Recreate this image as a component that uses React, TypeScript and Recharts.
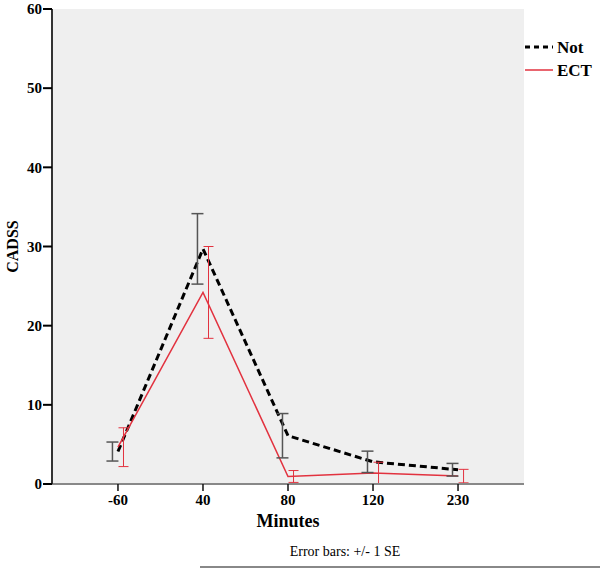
import React from "react"
import { ComposedChart, Line, XAxis, YAxis, ErrorBar, CartesianGrid } from "recharts"

// time points (minutes) and CADSS means / standard errors
const minutes = ["-60", "40", "80", "120", "230"]
const notMean = [4.1, 29.7, 6.1, 2.8, 1.8]
const notSE = [1.2, 4.45, 2.8, 1.35, 0.8]
const ectMean = [4.65, 24.2, 0.95, 1.4, 1.0]
const ectSE = [2.45, 5.8, 0.75, 1.35, 0.85]
const yTicks = [0, 10, 20, 30, 40, 50, 60]

const serif = "'Liberation Serif', 'Times New Roman', serif"
const RED = "#e2323f"
const DODGE = 0.065

const notLine = minutes.map((_, i) => ({ x: i, y: notMean[i] }))
const ectLine = minutes.map((_, i) => ({ x: i, y: ectMean[i] }))
const notBars = minutes.map((_, i) => ({ x: i - DODGE, y: notMean[i], e: notSE[i] }))
const ectBars = minutes.map((_, i) => ({ x: i + DODGE, y: ectMean[i], e: ectSE[i] }))

export default function App() {
  return (
    <div style={{ position: "absolute", left: 0, top: 0, width: 600, height: 570, background: "#fff" }}>
      <ComposedChart width={600} height={570} margin={{ top: 9, right: 76, bottom: 58, left: 0 }}>
        <CartesianGrid fill="#efefef" horizontal={false} vertical={false} />
        <XAxis
          dataKey="x"
          type="number"
          domain={[-0.776, 4.776]}
          ticks={[0, 1, 2, 3, 4]}
          tickFormatter={(v: number) => minutes[v]}
          allowDataOverflow
          height={28}
          axisLine={{ stroke: "#888", strokeWidth: 2 }}
          tickLine={{ stroke: "#111", strokeWidth: 1.5 }}
          tickSize={7}
          tickMargin={3}
          tick={{ fontFamily: serif, fontWeight: "bold", fontSize: 15, fill: "#000" }}
          label={{ value: "Minutes", position: "bottom", offset: 2, style: { fontFamily: serif, fontWeight: "bold", fontSize: 18, fill: "#000" } }}
        />
        <XAxis xAxisId="top" orientation="top" type="number" height={0} tick={false} tickLine={false} axisLine={{ stroke: "#888", strokeWidth: 2 }} />
        <YAxis
          domain={[0, 60]}
          ticks={yTicks}
          width={52}
          axisLine={{ stroke: "#333", strokeWidth: 2 }}
          tickLine={{ stroke: "#000", strokeWidth: 2 }}
          tickSize={9}
          tickMargin={1}
          tick={{ fontFamily: serif, fontWeight: "bold", fontSize: 15, fill: "#000" }}
          label={{ value: "CADSS", angle: -90, position: "insideLeft", offset: 12, style: { textAnchor: "middle", fontFamily: serif, fontWeight: "bold", fontSize: 16, fill: "#000" } }}
        />
        <YAxis yAxisId="right" orientation="right" width={0} tick={false} tickLine={false} axisLine={{ stroke: "#888", strokeWidth: 2 }} />
        <Line data={notLine} dataKey="y" name="Not" stroke="#000" strokeWidth={3} strokeDasharray="7 4" dot={false} activeDot={false} isAnimationActive={false} />
        <Line data={ectLine} dataKey="y" name="ECT" stroke={RED} strokeWidth={1.5} dot={false} activeDot={false} isAnimationActive={false} />
        <Line data={notBars} dataKey="y" stroke="none" dot={false} activeDot={false} legendType="none" isAnimationActive={false}>
          <ErrorBar dataKey="e" width={6} stroke="#555" strokeWidth={1.5} direction="y" />
        </Line>
        <Line data={ectBars} dataKey="y" stroke="none" dot={false} activeDot={false} legendType="none" isAnimationActive={false}>
          <ErrorBar dataKey="e" width={5} stroke={RED} strokeWidth={1} direction="y" />
        </Line>
      </ComposedChart>
      <svg width={600} height={570} style={{ position: "absolute", left: 0, top: 0, pointerEvents: "none" }}>
        <g transform="translate(522,35)">
          <line x1={3} y1={12} x2={31} y2={12} stroke="#000" strokeWidth={3} strokeDasharray="5 4" />
          <text x={35} y={18} fontFamily={serif} fontWeight="bold" fontSize={17} fill="#000">Not</text>
          <line x1={3} y1={35} x2={31} y2={35} stroke={RED} strokeWidth={1.5} />
          <text x={35} y={41} fontFamily={serif} fontWeight="bold" fontSize={17} fill="#000">ECT</text>
        </g>
        <text x={345} y={556} textAnchor="middle" fontFamily={serif} fontSize={14} fill="#000">Error bars: +/- 1 SE</text>
        <line x1={200} y1={567} x2={600} y2={567} stroke="#888" strokeWidth={2} />
      </svg>
    </div>
  )
}
